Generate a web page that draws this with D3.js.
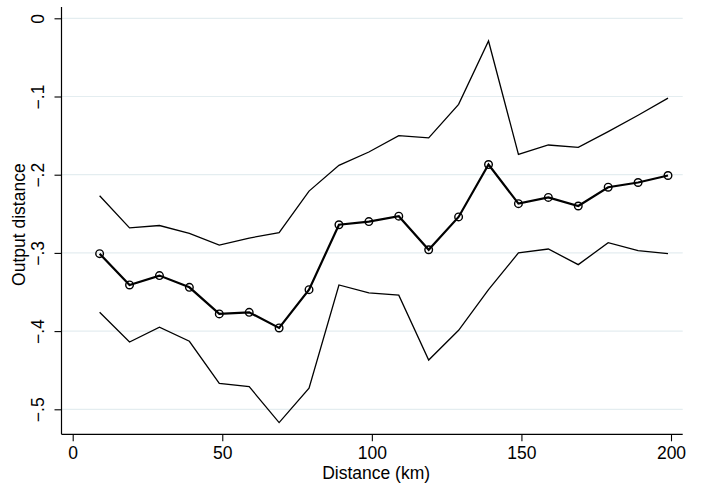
<!DOCTYPE html>
<html>
<head>
<meta charset="utf-8">
<script src="https://cdn.jsdelivr.net/npm/d3@7"></script>
<style>
  body { margin: 0; background: #fff; }
  text { font-family: "Liberation Sans", Arial, sans-serif; }
</style>
</head>
<body>
<svg id="chart" width="702" height="487"></svg>
<script>
var distance = [9, 19, 29, 39, 49, 59, 69, 79, 89, 99, 109, 119, 129, 139, 149, 159, 169, 179, 189, 199];
var estimate = [-0.301, -0.341, -0.329, -0.344, -0.378, -0.376, -0.396, -0.347, -0.264, -0.260,
  -0.253, -0.296, -0.254, -0.187, -0.237, -0.229, -0.240, -0.216, -0.210, -0.201];
var upper = [-0.227, -0.268, -0.265, -0.275, -0.290, -0.281, -0.274, -0.221, -0.188, -0.171,
  -0.150, -0.153, -0.110, -0.029, -0.174, -0.162, -0.165, -0.145, -0.124, -0.102];
var lower = [-0.376, -0.414, -0.395, -0.413, -0.467, -0.471, -0.517, -0.473, -0.341, -0.351,
  -0.354, -0.437, -0.399, -0.347, -0.300, -0.295, -0.315, -0.287, -0.297, -0.301];
var xTicks = [0, 50, 100, 150, 200];
var yTicks = [0, -0.1, -0.2, -0.3, -0.4, -0.5];

var svg = d3.select("#chart"),
  plot = { left: 61.5, right: 682.7, top: 7, bottom: 434.3 },
  fontSize = 17.5;

var x = d3.scaleLinear().domain([0, 200]).range([72.7, 671]);
var y = d3.scaleLinear().domain([-0.5, 0]).range([409.3, 18.3]);

// stata style labels: 0, -.1, -.2 ...
function fmtY(d) {
  if (d == 0) return "0";
  return (d < 0 ? "\u2212" : "") + d3.format(".1f")(Math.abs(d)).replace(/^0/, "");
}

// gridlines
svg.append("g")
  .selectAll("line")
  .data(yTicks)
  .enter().append("line")
  .attr("x1", plot.left)
  .attr("x2", plot.right)
  .attr("y1", function(d) { return y(d); })
  .attr("y2", function(d) { return y(d); })
  .attr("stroke", "#e4edf0")
  .attr("stroke-width", 1.2);

// y axis
var yAxis = svg.append("g")
  .attr("transform", "translate(" + plot.left + ",0)")
  .call(d3.axisLeft(y).tickValues(yTicks).tickSize(7).tickFormat(fmtY));
yAxis.select(".domain").remove();
yAxis.append("line")
  .attr("x1", 0).attr("x2", 0)
  .attr("y1", plot.top).attr("y2", plot.bottom)
  .attr("stroke", "#000").attr("stroke-width", 1.2);
yAxis.selectAll(".tick line").attr("stroke", "#000").attr("stroke-width", 1.1);
yAxis.selectAll(".tick text")
  .attr("font-size", fontSize)
  .attr("fill", "#000")
  .attr("text-anchor", "middle")
  .attr("x", -18)
  .attr("y", 0)
  .attr("dy", 0)
  .attr("transform", "rotate(-90,-18,0)");

// x axis
var xAxis = svg.append("g")
  .attr("transform", "translate(0," + plot.bottom + ")")
  .call(d3.axisBottom(x).tickValues(xTicks).tickSize(7).tickPadding(5));
xAxis.select(".domain").remove();
xAxis.append("line")
  .attr("x1", plot.left).attr("x2", plot.right)
  .attr("y1", 0).attr("y2", 0)
  .attr("stroke", "#000").attr("stroke-width", 1.2);
xAxis.selectAll(".tick line").attr("stroke", "#000").attr("stroke-width", 1.1);
xAxis.selectAll(".tick text").attr("font-size", fontSize).attr("fill", "#000");

// axis titles
svg.append("text")
  .attr("x", (plot.left + plot.right) / 2 + 4)
  .attr("y", 479)
  .attr("text-anchor", "middle")
  .attr("font-size", fontSize)
  .text("Distance (km)");

svg.append("text")
  .attr("transform", "translate(25," + ((plot.top + plot.bottom) / 2 + 4) + ") rotate(-90)")
  .attr("text-anchor", "middle")
  .attr("font-size", fontSize)
  .text("Output distance");

// lines
var line = d3.line()
  .x(function(d) { return x(d[0]); })
  .y(function(d) { return y(d[1]); });

function pairs(vals) {
  return distance.map(function(d, i) { return [d, vals[i]]; });
}

[upper, lower].forEach(function(series) {
  svg.append("path")
    .datum(pairs(series))
    .attr("fill", "none")
    .attr("stroke", "#000")
    .attr("stroke-width", 1.3)
    .attr("d", line);
});

svg.append("path")
  .datum(pairs(estimate))
  .attr("fill", "none")
  .attr("stroke", "#000")
  .attr("stroke-width", 2.2)
  .attr("d", line);

svg.append("g")
  .selectAll("circle")
  .data(pairs(estimate))
  .enter().append("circle")
  .attr("cx", function(d) { return x(d[0]); })
  .attr("cy", function(d) { return y(d[1]); })
  .attr("r", 3.8)
  .attr("fill", "none")
  .attr("stroke", "#000")
  .attr("stroke-width", 1.4);
</script>
</body>
</html>
